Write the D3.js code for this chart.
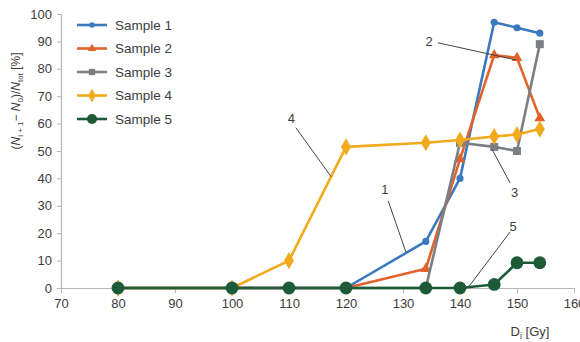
<!DOCTYPE html>
<html>
<head>
<meta charset="utf-8">
<script src="https://cdn.jsdelivr.net/npm/d3@7"></script>
<style>
  html, body { margin: 0; padding: 0; background: #fff; }
  svg { display: block; font-family: "Liberation Sans", Arial, sans-serif; }
</style>
</head>
<body>
<svg id="chart" width="580" height="342"></svg>
<script>
// Dose values (Gy) shared by all samples
const doses = [80, 100, 110, 120, 134, 140, 146, 150, 154];

// Relative increase (%) per sample
const sample1 = [0, 0, 0, 0, 17, 40, 97, 95, 93];
const sample2 = [0, 0, 0, 0, 7, 47, 85, 84, 62];
const sample3 = [0, 0, 0, 0, 0, 53, 51.5, 50, 89];
const sample4 = [0, 0, 10, 51.5, 53, 54, 55.3, 56, 58];
const sample5 = [0, 0, 0, 0, 0, 0, 1.3, 9.2, 9.2];

const seriesNames = ["Sample 1", "Sample 2", "Sample 3", "Sample 4", "Sample 5"];
const seriesValues = [sample1, sample2, sample3, sample4, sample5];

const xTicks = [70, 80, 90, 100, 110, 120, 130, 140, 150, 160];
const yTicks = [0, 10, 20, 30, 40, 50, 60, 70, 80, 90, 100];

// Numbered callouts: label position and leader line, in data units
const callouts = [
  { label: "1", at: [126.8, 36.1], from: [127.4, 31.8], to: [130.5, 13.2] },
  { label: "2", at: [134.6, 89.9], from: [136.1, 89.5], to: [149.9, 83.2] },
  { label: "3", at: [149.6, 35.0], from: [145.6, 50.7], to: [148.8, 38.3] },
  { label: "4", at: [110.4, 62.0], from: [111.2, 58.5], to: [117.4, 40.6] },
  { label: "5", at: [149.3, 22.4], from: [148.8, 20.5], to: [141.4, 0.1] }
];

const colors = ["#3b78bd", "#e2622b", "#7b7e82", "#f1aa1c", "#1d5b38"];
const markerShapes = [
  { type: d3.symbolCircle, size: 40 },
  { type: d3.symbolTriangle, size: 50 },
  { type: d3.symbolSquare, size: 64 },
  { type: d3.symbolDiamond, size: 85 },
  { type: d3.symbolCircle, size: 130 }
];

const svg = d3.select("#chart");
const x = d3.scaleLinear().domain([70, 160]).range([61, 574]);
const y = d3.scaleLinear().domain([0, 100]).range([288, 14]);

const axisColor = "#b5b5b5";
const textColor = "#3c3c3c";

// X axis
const xAxis = svg.append("g")
  .attr("transform", `translate(0,${y(0)})`)
  .call(d3.axisBottom(x).tickValues(xTicks).tickSize(5).tickSizeOuter(0).tickPadding(6));
xAxis.select(".domain").attr("stroke", axisColor).attr("stroke-width", 1.2);
xAxis.selectAll(".tick line").attr("stroke", axisColor);
xAxis.selectAll(".tick text").attr("fill", textColor).attr("font-size", 13)
  .attr("font-family", "Liberation Sans, Arial, sans-serif");

// Y axis
const yAxis = svg.append("g")
  .attr("transform", `translate(${x(70)},0)`)
  .call(d3.axisLeft(y).tickValues(yTicks).tickSize(4).tickSizeOuter(0).tickPadding(5));
yAxis.select(".domain").attr("stroke", axisColor).attr("stroke-width", 1.2);
yAxis.selectAll(".tick line").attr("stroke", axisColor);
yAxis.selectAll(".tick text").attr("fill", textColor).attr("font-size", 13)
  .attr("font-family", "Liberation Sans, Arial, sans-serif");

// Series lines and markers
const line = d3.line().x(d => x(d[0])).y(d => y(d[1]));
seriesValues.forEach((vals, i) => {
  const pts = doses.map((d, j) => [d, vals[j]]);
  const g = svg.append("g");
  g.append("path")
    .datum(pts)
    .attr("d", line)
    .attr("fill", "none")
    .attr("stroke", colors[i])
    .attr("stroke-width", 2.6)
    .attr("stroke-linejoin", "round");
  const sym = d3.symbol().type(markerShapes[i].type).size(markerShapes[i].size);
  g.selectAll("path.m")
    .data(pts)
    .join("path")
    .attr("class", "m")
    .attr("d", sym)
    .attr("transform", d => `translate(${x(d[0])},${y(d[1])})`)
    .attr("fill", colors[i]);
});

// Callout leader lines and numbers
callouts.forEach(c => {
  svg.append("line")
    .attr("x1", x(c.from[0])).attr("y1", y(c.from[1]))
    .attr("x2", x(c.to[0])).attr("y2", y(c.to[1]))
    .attr("stroke", "#444").attr("stroke-width", 1);
  svg.append("text")
    .attr("x", x(c.at[0])).attr("y", y(c.at[1]))
    .attr("text-anchor", "middle")
    .attr("dominant-baseline", "central")
    .attr("font-size", 13)
    .attr("fill", textColor)
    .text(c.label);
});

// Legend
const legend = svg.append("g").attr("transform", "translate(77,25)");
seriesNames.forEach((name, i) => {
  const row = legend.append("g").attr("transform", `translate(0,${i * 23.5})`);
  row.append("line")
    .attr("x1", 0).attr("x2", 30).attr("y1", 0).attr("y2", 0)
    .attr("stroke", colors[i]).attr("stroke-width", 2.6);
  const s = markerShapes[i];
  row.append("path")
    .attr("d", d3.symbol().type(s.type).size(s.size * 0.6)())
    .attr("transform", "translate(15,0)")
    .attr("fill", colors[i]);
  row.append("text")
    .attr("x", 38).attr("y", 0)
    .attr("dominant-baseline", "central")
    .attr("font-size", 13.5)
    .attr("fill", textColor)
    .text(name);
});

// Y axis title: (N_i+1 − N_0)/N_tot [%]
const yTitle = svg.append("text")
  .attr("transform", "translate(20,101) rotate(-90)")
  .attr("text-anchor", "middle")
  .attr("font-size", 12)
  .attr("fill", textColor);
yTitle.append("tspan").text("(");
yTitle.append("tspan").attr("font-style", "italic").text("N");
yTitle.append("tspan").attr("font-size", 8).attr("dy", 3).text("i + 1");
yTitle.append("tspan").attr("dy", -3).text("− ");
yTitle.append("tspan").attr("font-style", "italic").text("N");
yTitle.append("tspan").attr("font-size", 8).attr("dy", 3).text("0");
yTitle.append("tspan").attr("dy", -3).text(")/");
yTitle.append("tspan").attr("font-style", "italic").text("N");
yTitle.append("tspan").attr("font-size", 8).attr("dy", 3).text("tot");
yTitle.append("tspan").attr("dy", -3).text(" [%]");

// X axis title: D_i [Gy]
const xTitle = svg.append("text")
  .attr("x", 530).attr("y", 336)
  .attr("text-anchor", "middle")
  .attr("font-size", 13)
  .attr("fill", textColor);
xTitle.append("tspan").text("D");
xTitle.append("tspan").attr("font-size", 9).attr("dy", 3).text("i");
xTitle.append("tspan").attr("dy", -3).text(" [Gy]");
</script>
</body>
</html>
